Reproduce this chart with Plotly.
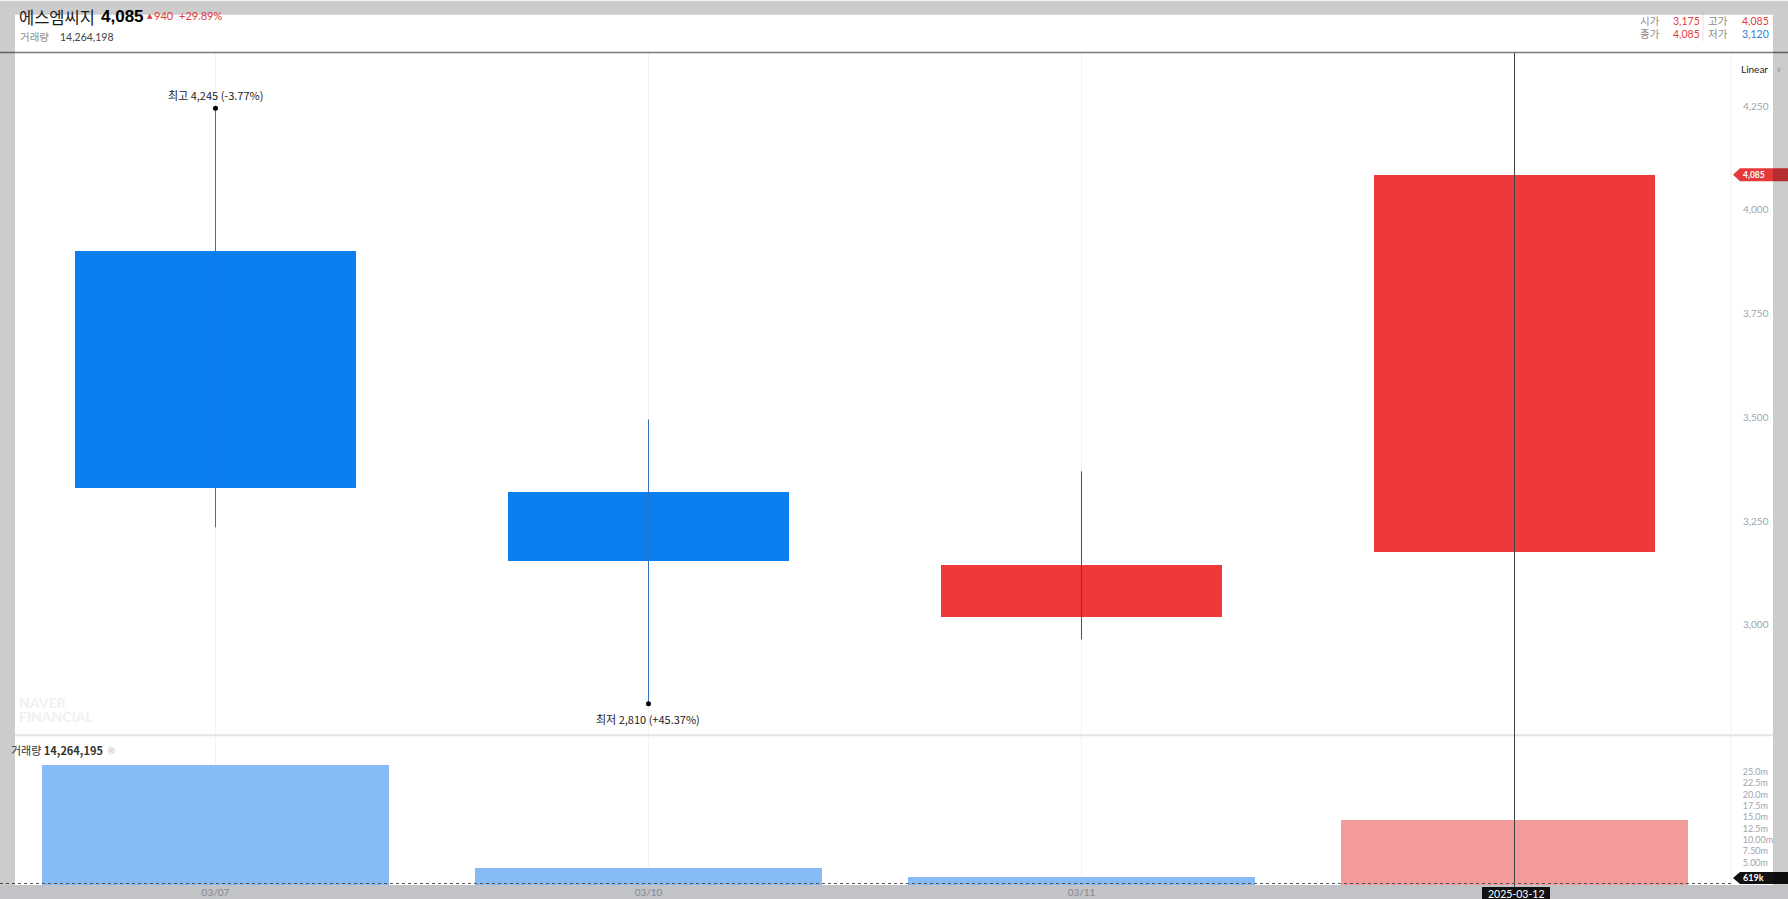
import plotly.graph_objects as go

# ---------------- data ----------------
dates = ["03/07", "03/10", "03/11", "03/12"]
opens = [3900, 3320, 3020, 3175]
highs = [4245, 3495, 3370, 4085]
lows = [3235, 2810, 2965, 3120]
closes = [3330, 3155, 3145, 4085]
volumes = [26.5e6, 3.75e6, 1.75e6, 14264195]

price_ticks = [3000, 3250, 3500, 3750, 4000, 4250]
vol_tickvals = [5e6, 7.5e6, 10e6, 12.5e6, 15e6, 17.5e6, 20e6, 22.5e6, 25e6]
vol_ticktext = ["5.00m", "7.50m", "10.00m", "12.5m", "15.0m", "17.5m", "20.0m", "22.5m", "25.0m"]

stock_name = "에스엠씨지"
last_price = "4,085"
change_abs = "940"
change_pct = "+29.89%"
header_volume = "14,264,198"
legend_volume = "14,264,195"
ohlc_labels = [("시가", "3,175", "#e23b3e"), ("고가", "4,085", "#e23b3e"),
               ("종가", "4,085", "#e23b3e"), ("저가", "3,120", "#2f7fd6")]
high_label = "최고 4,245 (-3.77%)"
low_label = "최저 2,810 (+45.37%)"
cross_date = "2025-03-12"
cross_vol = "619k"

# ---------------- layout geometry (designed in a 1788x899 frame) ----------------
W, H = 1788, 899
L, R, T, B = 15, 57, 52, 19
PW, PH = W - L - R, H - T - B
H_FIG = 910
SY = H_FIG / H
KR = "Noto Sans CJK KR"
NUM = "Lato"

def px(x):
    return (x - L) / PW

def py(y):
    return (H - B - y) / PH

UP, DOWN = "#ee3839", "#0b7ef0"
UP_W, DOWN_W = "#a8282b", "#2c74bd"
UP_V, DOWN_V = "#f39a9a", "#86bbf5"

xs = list(range(len(dates)))
is_up = [c >= o for o, c in zip(opens, closes)]
vol_up = [False] + [volumes[i] > volumes[i - 1] for i in range(1, len(volumes))]

fig = go.Figure()

# wicks
for i in xs:
    fig.add_trace(go.Scatter(
        x=[i, i], y=[lows[i], highs[i]], mode="lines",
        line=dict(color=UP_W if is_up[i] else DOWN_W, width=1),
        hoverinfo="skip", showlegend=False, xaxis="x", yaxis="y"))

# bodies
fig.add_trace(go.Bar(
    x=xs, y=[abs(c - o) for o, c in zip(opens, closes)],
    base=[min(o, c) for o, c in zip(opens, closes)],
    width=0.65, marker=dict(color=[UP if u else DOWN for u in is_up], line=dict(width=0)),
    showlegend=False, xaxis="x", yaxis="y"))

# high / low dots
hi_i = highs.index(max(highs))
lo_i = lows.index(min(lows))
fig.add_trace(go.Scatter(
    x=[hi_i, lo_i], y=[highs[hi_i], lows[lo_i]], mode="markers",
    marker=dict(color="#000", size=5), showlegend=False, xaxis="x", yaxis="y"))

# volume
fig.add_trace(go.Bar(
    x=xs, y=volumes, width=0.8,
    marker=dict(color=[UP_V if u else DOWN_V for u in vol_up], line=dict(width=0)),
    showlegend=False, xaxis="x2", yaxis="y2"))

shapes = []
# x-axis band
shapes.append(dict(type="rect", xref="paper", yref="paper", x0=px(0), x1=px(W), y0=py(880), y1=py(H),
                   fillcolor="#c1c3c7", line=dict(width=0), layer="below"))
# pane separator
shapes.append(dict(type="line", xref="paper", yref="paper", x0=px(15), x1=px(1773), y0=py(731), y1=py(731),
                   line=dict(color="#e3e3e3", width=2), layer="above"))
# right axis divider
shapes.append(dict(type="line", xref="paper", yref="paper", x0=px(1731), x1=px(1731), y0=py(52), y1=py(880),
                   line=dict(color="#efefef", width=1), layer="above"))
# header line
shapes.append(dict(type="line", xref="paper", yref="paper", x0=px(0), x1=px(W), y0=py(51.5), y1=py(51.5),
                   line=dict(color="#7a7a7a", width=1.5), layer="above"))
# header right divider
shapes.append(dict(type="line", xref="paper", yref="paper", x0=px(1703), x1=px(1703), y0=py(12), y1=py(40),
                   line=dict(color="#e2e2e2", width=1), layer="above"))
# crosshair vertical
shapes.append(dict(type="line", xref="x", yref="paper", x0=3, x1=3, y0=py(883), y1=py(52),
                   line=dict(color="#444", width=1), layer="above"))
# crosshair horizontal dotted
shapes.append(dict(type="line", xref="paper", yref="paper", x0=px(0), x1=px(1731), y0=py(878.5), y1=py(878.5),
                   line=dict(color="#555", width=1, dash="dot"), layer="above"))

def tag(ymid, color, h=13):
    y0, y1 = ymid - h / 2, ymid + h / 2
    path = (f"M {px(1733)},{py(ymid)} L {px(1740)},{py(y0)} L {px(W)},{py(y0)} "
            f"L {px(W)},{py(y1)} L {px(1740)},{py(y1)} Z")
    return dict(type="path", xref="paper", yref="paper", path=path,
                fillcolor=color, line=dict(width=0), layer="above")

price_tag_y = 173.2
shapes.append(tag(price_tag_y, "#e5393b"))
shapes.append(tag(873, "#111111", 12))
# crosshair date box
shapes.append(dict(type="rect", xref="paper", yref="paper", x0=px(1482), x1=px(1550), y0=py(882), y1=py(H),
                   fillcolor="#111111", line=dict(width=0), layer="above"))

# overlay strips
ov = "rgba(0,0,0,0.2)"
for (x0, x1, y0, y1) in [(0, W, 0, 14), (0, 15, 14, 880), (1773, W, 14, 880)]:
    shapes.append(dict(type="rect", xref="paper", yref="paper", x0=px(x0), x1=px(x1), y0=py(y0), y1=py(y1),
                       fillcolor=ov, line=dict(width=0), layer="above"))

ann = []

def text(x, y, s, size=11, color="#222", family=KR, xanchor="left", **kw):
    ann.append(dict(x=px(x), y=py(y), xref="paper", yref="paper", text=s, showarrow=False,
                    xanchor=xanchor, yanchor="middle", font=dict(size=size, color=color, family=family), **kw))

# header
text(17, 16, stock_name, 16.5, "#1a1a1a")
text(99, 16, f"<b>{last_price}</b>", 17, "#000", "Liberation Sans")
text(145, 15, "▲", 7, "#e23b3e", "DejaVu Sans")
text(152, 15, change_abs, 11, "#e23b3e", NUM)
text(177, 15, change_pct, 11, "#e23b3e", NUM)
text(18, 36, "거래량", 10.5, "#8c8c8c")
text(58, 36, header_volume, 10.5, "#444", NUM)

pos = [(1662, 1671, 20), (1730, 1740, 20), (1662, 1671, 33), (1730, 1740, 33)]
for (lab, val, col), (lx, vx, yy) in zip(ohlc_labels, pos):
    text(lx, yy, lab, 10.5, "#8c8c8c", KR, xanchor="right")
    text(vx, yy, val, 10.5, col, NUM)

text(1739, 68, "Linear", 10, "#222", NUM)
text(1774, 68, "∨", 8, "#9a9a9a", "DejaVu Sans")

# volume legend
text(9, 746, f"거래량 <b>{legend_volume}</b>", 11, "#333")
text(105, 746, "⊗", 10, "#cfcfcf", "DejaVu Sans")

# watermark
text(17, 698, "<b>NAVER</b>", 14, "#f0f0f0", "Lato")
text(17, 712, "<b>FINANCIAL</b>", 14, "#f0f0f0", "Lato")

# tags
text(1741, price_tag_y, f"<b>{last_price}</b>", 8.5, "#ffffff", NUM)
text(1741, 873, f"<b>{cross_vol}</b>", 9, "#ffffff", NUM)
text(1516, 889, cross_date, 10.5, "#ffffff", NUM, xanchor="center")

# high / low labels
ann.append(dict(x=hi_i, y=highs[hi_i], xref="x", yref="y", text=high_label, showarrow=False,
                yshift=13, font=dict(size=11, color="#222", family=KR)))
ann.append(dict(x=lo_i, y=lows[lo_i], xref="x", yref="y", text=low_label, showarrow=False,
                yshift=-15, font=dict(size=11, color="#222", family=KR)))

vol_top = 32.7e6
split = py(731)

fig.update_layout(
    width=W, height=H_FIG,
    margin=dict(l=L, r=R, t=T * SY, b=B * SY, pad=0),
    paper_bgcolor="#ffffff", plot_bgcolor="#ffffff",
    showlegend=False, bargap=0,
    shapes=shapes, annotations=ann,
    xaxis=dict(domain=[0, 1], range=[-0.463, 3.5], anchor="y", tickvals=xs, showticklabels=False,
               showgrid=True, gridcolor="#f2f2f2", gridwidth=1, zeroline=False, showline=False),
    yaxis=dict(domain=[split + 0.002, 1], range=[2738, 4378], side="right", anchor="x",
               tickvals=price_ticks, tickformat=",", showgrid=False, zeroline=False, showline=False,
               ticks="outside", ticklen=9, tickcolor="rgba(0,0,0,0)",
               tickfont=dict(size=10, color="#a0a4aa", family=NUM)),
    xaxis2=dict(domain=[0, 1], range=[-0.463, 3.5], anchor="y2", matches="x",
                tickvals=xs[:3], ticktext=dates[:3], showgrid=True, gridcolor="#f2f2f2",
                zeroline=False, showline=False, ticks="",
                tickfont=dict(size=10, color="#85888e", family=NUM)),
    yaxis2=dict(domain=[0, split - 0.002], range=[0, vol_top], side="right", anchor="x2",
                tickvals=vol_tickvals, ticktext=vol_ticktext, showgrid=False, zeroline=False,
                showline=False, ticks="outside", ticklen=9, tickcolor="rgba(0,0,0,0)",
                tickfont=dict(size=9, color="#a0a4aa", family=NUM)),
)

fig.write_html(
    "out.html",
    config={"displayModeBar": False},
    post_script="document.body.style.margin='0';",
)
